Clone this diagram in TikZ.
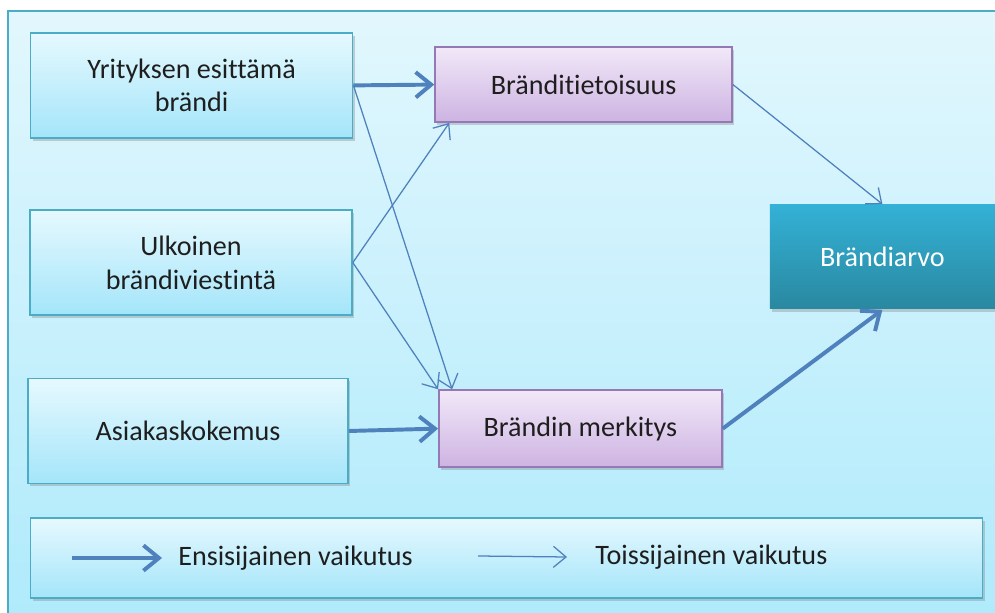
\documentclass[tikz,border=0pt]{standalone}
\usepackage{fontspec}
\setmainfont{Carlito}[RawFeature={-liga;-clig;-dlig}]
\usepackage{tikz}
\usetikzlibrary{arrows.meta, shadows}

\definecolor{bgtop}{HTML}{E2F7FD}
\definecolor{bgbot}{HTML}{AEEAFC}
\definecolor{tealline}{HTML}{4BACC6}
\definecolor{boxtop}{HTML}{E6F9FE}
\definecolor{boxbot}{HTML}{A4E5FA}
\definecolor{lilatop}{HTML}{F1E8F8}
\definecolor{lilabot}{HTML}{CDB3E2}
\definecolor{lilaline}{HTML}{9479B5}
\definecolor{valtop}{HTML}{33B1D6}
\definecolor{valbot}{HTML}{2A88A0}
\definecolor{arrowblue}{HTML}{4F81BD}
\definecolor{txt}{HTML}{1E1E1E}

\begin{document}
\begin{tikzpicture}[
    font=\fontsize{20}{24}\selectfont,
    shadebox/.style={draw, line width=1.2pt, drop shadow={shadow xshift=1.5pt, shadow yshift=-2pt, opacity=0.35}},
    inbox/.style={shadebox, draw=tealline, top color=boxtop, bottom color=boxbot, text=txt, align=center, minimum width=8.05cm, minimum height=2.63cm},
    midbox/.style={shadebox, draw=lilaline, top color=lilatop, bottom color=lilabot, text=txt},
    valuebox/.style={shadebox, draw=none, top color=valtop, bottom color=valbot, text=white, minimum width=5.63cm, minimum height=2.6cm},
    legendtext/.style={anchor=west, inner sep=0pt, text=txt},
    primary/.style={arrowblue, line width=2.8pt, -{Straight Barb[length=11pt,width=18pt]}},
    secondary/.style={arrowblue, line width=0.9pt, -{Straight Barb[length=9pt,width=15pt]}}
  ]
    % tausta
    \useasboundingbox (0,0) rectangle (24.875,15.325);
    \clip (0,0) rectangle (24.875,15.325);
    \fill[white] (0,0) rectangle (24.875,15.325);
    \draw[tealline, line width=1pt, top color=bgtop, bottom color=bgbot] (0.2,-0.5) rectangle (25.5,15.05);

    % laatikot
    \node[inbox] (firm) at (4.79,13.19) {Yrityksen esittämä\\brändi};
    \node[inbox] (ext) at (4.775,8.76) {Ulkoinen\\brändiviestintä};
    \node[inbox, minimum width=8cm] (cust) at (4.7,4.55) {Asiakaskokemus};
    \node[midbox, minimum width=7.425cm, minimum height=1.875cm] (aware) at (14.59,13.21) {Bränditietoisuus};
    \node[midbox, minimum width=7.075cm, minimum height=1.925cm] (mean) at (14.51,4.61) {Brändin merkitys};
    \node[valuebox] (equity) at (22.06,8.9) {Brändiarvo};

    % nuolet
    \draw[primary] (firm.east) -- (aware.west);
    \draw[secondary] (firm.east) -- ([xshift=0.35cm]mean.north west);
    \draw[secondary] (ext.east) -- ([xshift=0.375cm]aware.south west);
    \draw[secondary] (ext.east) -- (mean.north west);
    \draw[primary] (cust.east) -- (mean.west);
    \draw[secondary] (aware.east) -- (equity.north);
    \draw[primary] (mean.east) -- (equity.south);

    % selite
    \node[inbox, minimum width=23.8cm, minimum height=2cm] (legend) at (12.66,1.375) {};
    \node[legendtext] (ensi) at (4.45,1.375) {Ensisijainen vaikutus};
    \node[legendtext] (toissi) at (14.875,1.4) {Toissijainen vaikutus};
    \coordinate (ensistart) at (1.8,1.375);
    \coordinate (toissistart) at (11.95,1.425);
    \draw[primary] (ensistart) -- ([xshift=-0.4cm]ensi.west);
    \draw[secondary] (toissistart) -- ([xshift=-0.7cm]toissi.west);
\end{tikzpicture}
\end{document}
